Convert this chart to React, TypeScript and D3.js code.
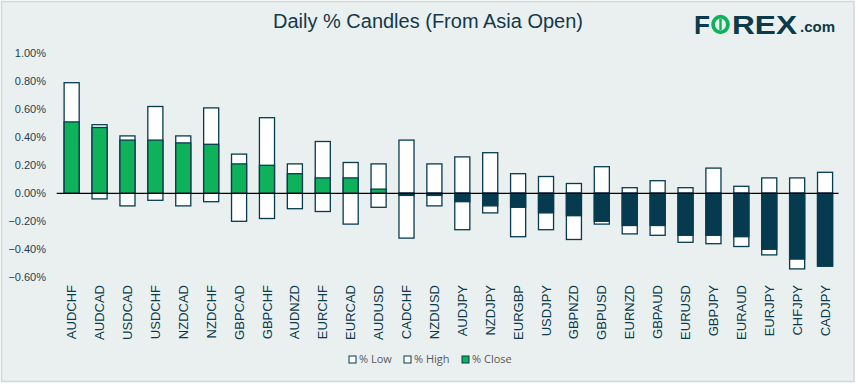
import React from "react";
import * as d3 from "d3";

// pairs, sorted by close as in the source chart
const pairs = [
  "AUDCHF", "AUDCAD", "USDCAD", "USDCHF", "NZDCAD", "NZDCHF", "GBPCAD",
  "GBPCHF", "AUDNZD", "EURCHF", "EURCAD", "AUDUSD", "CADCHF", "NZDUSD",
  "AUDJPY", "NZDJPY", "EURGBP", "USDJPY", "GBPNZD", "GBPUSD", "EURNZD",
  "GBPAUD", "EURUSD", "GBPJPY", "EURAUD", "EURJPY", "CHFJPY", "CADJPY",
];
const highs = [
  0.79, 0.49, 0.41, 0.62, 0.41, 0.61, 0.28, 0.54, 0.21, 0.37, 0.22, 0.21,
  0.38, 0.21, 0.26, 0.29, 0.14, 0.12, 0.07, 0.19, 0.04, 0.09, 0.04, 0.18,
  0.05, 0.11, 0.11, 0.15,
];
const lows = [
  0, -0.04, -0.09, -0.05, -0.09, -0.06, -0.2, -0.18, -0.11, -0.13, -0.22,
  -0.1, -0.32, -0.09, -0.26, -0.14, -0.31, -0.26, -0.33, -0.22, -0.29,
  -0.3, -0.35, -0.36, -0.38, -0.44, -0.54, -0.52,
];
const closes = [
  0.51, 0.47, 0.38, 0.38, 0.36, 0.35, 0.21, 0.2, 0.14, 0.11, 0.11, 0.03,
  -0.015, -0.015, -0.06, -0.09, -0.1, -0.14, -0.16, -0.2, -0.23, -0.23,
  -0.3, -0.3, -0.31, -0.4, -0.47, -0.52,
];
const yTicks = [-0.6, -0.4, -0.2, 0, 0.2, 0.4, 0.6, 0.8, 1.0];
const legendItems = ["% Low", "% High", "% Close"];

const W = 859;
const H = 384;
const NAVY = "#063b4f";
const GREEN = "#0db25b";
const BG = "#eaf0f0";

export default function App() {
  const x = d3.scaleBand<string>().domain(pairs).range([57.7, 839]).padding(0);
  const y = d3.scaleLinear().domain([-0.6, 1.0]).range([277.3, 53.3]);
  const bw = x.bandwidth() * 0.54;
  const bx = (p: string) => (x(p) as number) + (x.bandwidth() - bw) / 2;
  const fmt = d3.format(".2f");

  const box = (p: string, a: number, b: number, fill: string, key: string) => {
    if (a === b) return null;
    const top = y(Math.max(a, b));
    const bot = y(Math.min(a, b));
    return (
      <rect key={key} x={bx(p)} y={top} width={bw} height={bot - top}
        fill={fill} stroke={NAVY} strokeWidth={1.3} />
    );
  };

  const legendX = [349, 404, 462];

  return (
    <div style={{ position: "absolute", left: 0, top: 0 }}>
      <svg width={W} height={H} style={{ display: "block" }}>
        <rect x={0} y={0} width={W} height={H} fill="#ffffff" />
        <rect x={1.5} y={1.5} width={852.5} height={380} fill={BG}
          stroke="#d3d6d7" strokeWidth={1.5} />

        <text x={273} y={28} fontFamily="Liberation Sans, Arial"
          fontSize={19.5} textLength={310} lengthAdjust="spacingAndGlyphs"
          fill="#13394a">Daily % Candles (From Asia Open)</text>

        {/* logo */}
        <g fontFamily="Liberation Sans, Arial" fontWeight="bold" fill="#0b3a4a">
          <text x={694} y={33.5} fontSize={25} textLength={16}
            lengthAdjust="spacingAndGlyphs">F</text>
          <ellipse cx={720.5} cy={24.5} rx={7.4} ry={7.8} fill="none"
            stroke={GREEN} strokeWidth={3.8} />
          <line x1={720.5} y1={19} x2={720.5} y2={30} stroke={GREEN} strokeWidth={2.4} />
          <text x={732} y={33.5} fontSize={25} textLength={65}
            lengthAdjust="spacingAndGlyphs">REX</text>
          <text x={800} y={32} fontSize={14.5} textLength={35}
            lengthAdjust="spacingAndGlyphs">.com</text>
        </g>

        {/* y axis labels */}
        <g fontFamily="Liberation Sans, Arial" fontSize={11} fill="#1f3f4f">
          {yTicks.map((t) => (
            <text key={t} x={46} y={y(t)} dy="0.35em" textAnchor="end">
              {fmt(t)}%
            </text>
          ))}
        </g>

        {/* candles */}
        {pairs.map((p, i) => (
          <g key={p}>
            {box(p, 0, highs[i], "#ffffff", "h")}
            {box(p, 0, lows[i], "#ffffff", "l")}
            {box(p, 0, closes[i], closes[i] >= 0 ? GREEN : NAVY, "c")}
          </g>
        ))}

        <line x1={56.7} x2={838.5} y1={y(0)} y2={y(0)} stroke="#000" strokeWidth={1.3} />

        {/* x labels */}
        <g fontFamily="Liberation Sans, Arial" fontSize={13} fill="#0b3a4a">
          {pairs.map((p) => {
            const cx = (x(p) as number) + x.bandwidth() / 2;
            return (
              <text key={p} transform={`translate(${cx},285) rotate(-90)`}
                textAnchor="end" dy="0.35em">{p}</text>
            );
          })}
        </g>

        {/* legend */}
        <g fontFamily="Open Sans, Noto Sans" fontSize={11} fill="#595959">
          {legendItems.map((l, i) => (
            <g key={l} transform={`translate(${legendX[i]},356)`}>
              <rect x={0} y={0} width={7} height={7}
                fill={i === 2 ? GREEN : "#ffffff"} stroke={NAVY} strokeWidth={1} />
              <text x={10} y={3.5} dy="0.35em">{l}</text>
            </g>
          ))}
        </g>
      </svg>
    </div>
  );
}
